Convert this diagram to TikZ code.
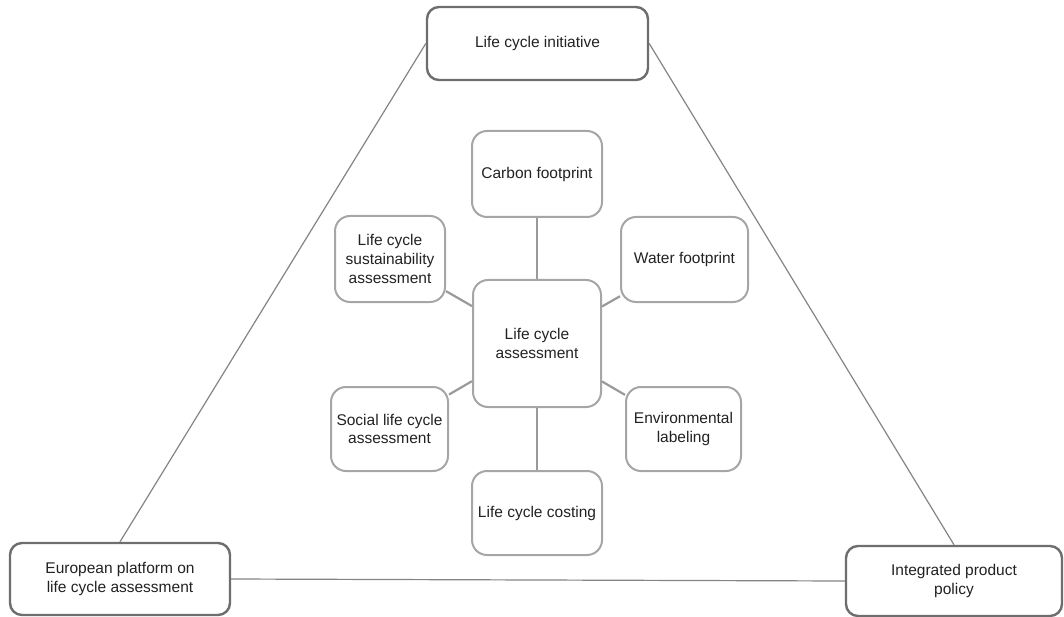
\documentclass[tikz,border=0pt]{standalone}
\usepackage{fontspec}
\setmainfont{Liberation Sans}
\definecolor{outerline}{HTML}{6E6E6E}
\definecolor{innerline}{HTML}{A6A6A6}
\definecolor{linkline}{HTML}{9A9A9A}
\definecolor{textgray}{HTML}{222222}
\begin{document}
\begin{tikzpicture}[x=1pt,y=-1pt,
  box/.style={rectangle, align=center, inner sep=2pt, fill=white,
    text=textgray, font=\fontsize{15.5}{18.6}\selectfont},
  outerbox/.style={box, draw=outerline, line width=2.4pt, rounded corners=12pt},
  innerbox/.style={box, draw=innerline, line width=2pt, rounded corners=15pt},
  outerlink/.style={draw=outerline!85, line width=1.2pt},
  innerlink/.style={draw=linkline, line width=2.2pt}]
\useasboundingbox (0,0) rectangle (1064,617);

% outer triangle of frameworks
\node[outerbox, minimum width=221pt, minimum height=73pt] (lci) at (537.5,43.5) {Life cycle initiative};
\node[outerbox, minimum width=220pt, minimum height=72pt] (eu) at (120,579) {European platform on\\life cycle assessment};
\node[outerbox, minimum width=216pt, minimum height=70pt] (ipp) at (954,581) {Integrated product\\policy};

% central methods
\node[innerbox, minimum width=128pt, minimum height=127pt] (lca) at (537,343.5) {Life cycle\\assessment};
\node[innerbox, minimum width=130pt, minimum height=86pt] (cf) at (537,174) {Carbon footprint};
\node[innerbox, minimum width=110pt, minimum height=86pt] (lcsa) at (390,259) {Life cycle\\sustainability\\assessment};
\node[innerbox, minimum width=127pt, minimum height=85pt] (wf) at (684.5,259.5) {Water footprint};
\node[innerbox, minimum width=117pt, minimum height=84pt] (slca) at (389.5,429) {Social life cycle\\assessment};
\node[innerbox, minimum width=115pt, minimum height=84pt] (el) at (683.5,429) {Environmental\\labeling};
\node[innerbox, minimum width=130pt, minimum height=84pt] (lcc) at (537,513) {Life cycle costing};

% triangle edges
\draw[outerlink] (lci.west) -- (eu.north);
\draw[outerlink] (lci.east) -- (ipp.north);
\draw[outerlink] (eu.east) -- (ipp.west);

% spokes from the hub
\draw[innerlink] (lca) -- (cf);
\draw[innerlink] (lca) -- (lcsa);
\draw[innerlink] (lca) -- (wf);
\draw[innerlink] (lca) -- (slca);
\draw[innerlink] (lca) -- (el);
\draw[innerlink] (lca) -- (lcc);
\end{tikzpicture}
\end{document}
